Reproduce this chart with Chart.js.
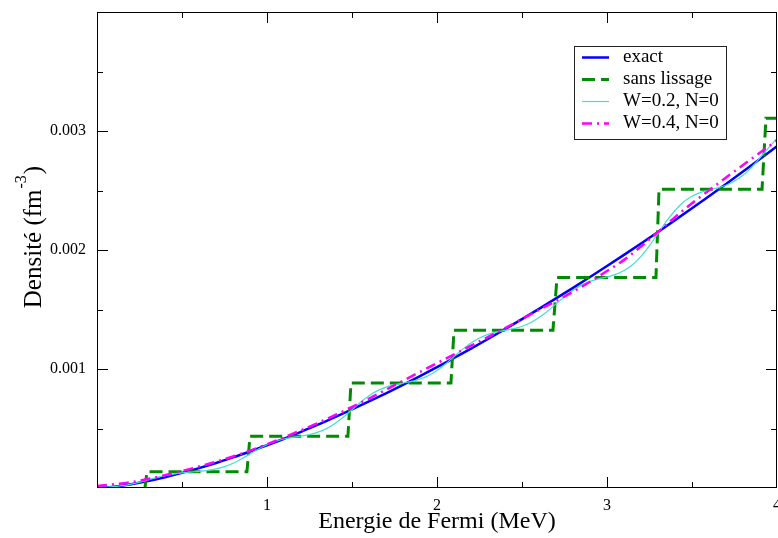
<!DOCTYPE html>
<html>
<head>
<meta charset="utf-8">
<script src="https://cdn.jsdelivr.net/npm/chart.js@4.4.0/dist/chart.umd.min.js"></script>
<style>
  html, body { margin: 0; padding: 0; background: #fff; }
  canvas { display: block; }
</style>
</head>
<body>
<canvas id="chart" width="778" height="538"></canvas>
<script>
// values
var exactX = [0, 0.1, 0.2, 0.3, 0.4, 0.5, 0.6, 0.7, 0.8, 0.9, 1.0, 1.1, 1.2, 1.3, 1.4, 1.5, 1.6, 1.7, 1.8, 1.9,
  2.0, 2.1, 2.2, 2.3, 2.4, 2.5, 2.6, 2.7, 2.8, 2.9, 3.0, 3.1, 3.2, 3.3, 3.4, 3.5, 3.6, 3.7, 3.8, 3.9, 4.0];
var exactY = [0, 0.0000114, 0.0000321, 0.000059, 0.0000908, 0.000127, 0.000167, 0.00021, 0.000257, 0.000307,
  0.000359, 0.000414, 0.000472, 0.000532, 0.000595, 0.00066, 0.000727, 0.000796, 0.000867, 0.00094,
  0.001015, 0.001093, 0.001171, 0.001252, 0.001335, 0.001419, 0.001505, 0.001593, 0.001682, 0.001773,
  0.001865, 0.001959, 0.002055, 0.002152, 0.002251, 0.002351, 0.002452, 0.002555, 0.002659, 0.002765, 0.002872];

var stepX = [0.282, 0.294, 0.882, 0.9, 1.476, 1.494, 2.082, 2.1, 2.682, 2.706, 3.288, 3.306, 3.912, 3.935, 4.0];
var stepY = [0, 0.000137, 0.000137, 0.000434, 0.000434, 0.000882, 0.000882, 0.001325, 0.001325, 0.001769,
  0.001769, 0.00251, 0.00251, 0.003107, 0.003107];

var w02X = [0, 0.05, 0.1, 0.15, 0.2, 0.25, 0.3, 0.35, 0.4, 0.45, 0.5, 0.55, 0.6, 0.65, 0.7, 0.75, 0.8, 0.85, 0.9, 0.95,
  1.0, 1.05, 1.1, 1.15, 1.2, 1.25, 1.3, 1.35, 1.4, 1.45, 1.5, 1.55, 1.6, 1.65, 1.7, 1.75, 1.8, 1.85, 1.9, 1.95,
  2.0, 2.05, 2.1, 2.15, 2.2, 2.25, 2.3, 2.35, 2.4, 2.45, 2.5, 2.55, 2.6, 2.65, 2.7, 2.75, 2.8, 2.85, 2.9, 2.95,
  3.0, 3.05, 3.1, 3.15, 3.2, 3.25, 3.3, 3.35, 3.4, 3.45, 3.5, 3.55, 3.6, 3.65, 3.7, 3.75, 3.8, 3.85, 3.9, 3.95, 4.0];
var w02Y = [0.000002, 0.0000053, 0.0000108, 0.0000197, 0.0000329, 0.0000496, 0.0000685, 0.0000874, 0.000104, 0.000117,
  0.000127, 0.000134, 0.00014, 0.000148, 0.00016, 0.00018, 0.000208, 0.000245, 0.000286, 0.000327,
  0.000363, 0.000391, 0.000412, 0.000425, 0.000437, 0.000449, 0.000469, 0.000499, 0.000542, 0.000596,
  0.000658, 0.00072, 0.000775, 0.000818, 0.000848, 0.000868, 0.000882, 0.000896, 0.000916, 0.000946,
  0.000988, 0.001042, 0.001104, 0.001165, 0.001219, 0.001261, 0.001291, 0.001311, 0.001325, 0.001339,
  0.001359, 0.001389, 0.001432, 0.001486, 0.001547, 0.001608, 0.001662, 0.001705, 0.001736, 0.001757,
  0.001774, 0.001795, 0.001827, 0.001876, 0.001947, 0.002037, 0.00214, 0.002242, 0.002332, 0.002403,
  0.002452, 0.002484, 0.002505, 0.002522, 0.002544, 0.002579, 0.002628, 0.002695, 0.002775, 0.002859, 0.002936];

var w04X = [0, 0.2, 0.4, 0.6, 0.8, 1.0, 1.2, 1.4, 1.6, 1.8, 2.0, 2.2, 2.4, 2.6, 2.8, 3.0, 3.1, 3.2, 3.3, 3.4, 3.5, 3.6, 3.8, 4.0];
var w04Y = [0.000017, 0.000049, 0.000108, 0.00018, 0.000265, 0.000367, 0.000485, 0.000612, 0.000752, 0.000901,
  0.001049, 0.001196, 0.001343, 0.001497, 0.001648, 0.001823, 0.001917, 0.00203, 0.002152, 0.002276,
  0.002393, 0.002502, 0.002714, 0.002922];

var xMajor = [1, 2, 3];
var xMinor = [0.5, 1.5, 2.5, 3.5];
var yMajor = [0.001, 0.002, 0.003];
var yMinor = [0.0005, 0.0015, 0.0025, 0.0035];

var SERIF = '"Liberation Serif", "Times New Roman", serif';

function pts(xs, ys) {
  return xs.map(function(x, i) { return { x: x, y: ys[i] }; });
}

// frame, inward ticks, legend box and the y title with its superscript
var decor = {
  id: 'decor',
  afterDatasetsDraw: function(chart) {
    var ctx = chart.ctx, a = chart.chartArea;
    var xs = chart.scales.x, ys = chart.scales.y;
    ctx.save();
    ctx.strokeStyle = '#000';
    ctx.lineWidth = 1;
    ctx.strokeRect(a.left + 0.5, a.top + 0.5, a.right - a.left - 1, a.bottom - a.top - 1);

    function xt(v, len) {
      var p = Math.round(xs.getPixelForValue(v)) + 0.5;
      ctx.beginPath();
      ctx.moveTo(p, a.bottom); ctx.lineTo(p, a.bottom - len);
      ctx.moveTo(p, a.top); ctx.lineTo(p, a.top + len);
      ctx.stroke();
    }
    function yt(v, len) {
      var p = Math.round(ys.getPixelForValue(v)) + 0.5;
      ctx.beginPath();
      ctx.moveTo(a.left, p); ctx.lineTo(a.left + len, p);
      ctx.moveTo(a.right, p); ctx.lineTo(a.right - len, p);
      ctx.stroke();
    }
    xMajor.forEach(function(v) { xt(v, 11); });
    xMinor.forEach(function(v) { xt(v, 6); });
    yMajor.forEach(function(v) { yt(v, 11); });
    yMinor.forEach(function(v) { yt(v, 6); });

    // legend
    ctx.fillStyle = '#fff';
    ctx.fillRect(574, 46, 152, 94);
    ctx.strokeStyle = '#222';
    ctx.strokeRect(574.5, 46.5, 152, 93);
    var rows = [57, 79, 101, 123];
    chart.data.datasets.forEach(function(ds, i) {
      ctx.save();
      ctx.strokeStyle = ds.borderColor;
      ctx.lineWidth = ds.borderWidth;
      ctx.setLineDash(ds.borderDash || []);
      ctx.beginPath();
      ctx.moveTo(582, rows[i] + 0.5);
      ctx.lineTo(609, rows[i] + 0.5);
      ctx.stroke();
      ctx.restore();
      ctx.fillStyle = '#000';
      ctx.font = '19px ' + SERIF;
      ctx.textBaseline = 'middle';
      ctx.textAlign = 'left';
      ctx.fillText(ds.label, 623, rows[i]);
    });

    // y axis title
    ctx.save();
    ctx.translate(34, 237);
    ctx.rotate(-Math.PI / 2);
    ctx.fillStyle = '#000';
    ctx.textBaseline = 'middle';
    ctx.textAlign = 'left';
    var big = '25px ' + SERIF, small = '16px ' + SERIF;
    var t1 = 'Densité (fm', t2 = '-3', t3 = ')';
    ctx.font = big;
    var w1 = ctx.measureText(t1).width, w3 = ctx.measureText(t3).width;
    ctx.font = small;
    var w2 = ctx.measureText(t2).width + 2;
    var x0 = -(w1 + w2 + w3) / 2;
    ctx.font = big;
    ctx.fillText(t1, x0, 0);
    ctx.font = small;
    ctx.fillText(t2, x0 + w1 + 1, -12);
    ctx.font = big;
    ctx.fillText(t3, x0 + w1 + w2, 0);
    ctx.restore();

    ctx.restore();
  }
};

var chart = new Chart('chart', {
  type: 'line',
  data: {
    datasets: [
      {
        label: 'exact',
        data: pts(exactX, exactY),
        borderColor: '#0000ff',
        borderWidth: 2.5,
        pointRadius: 0,
        fill: false,
        cubicInterpolationMode: 'monotone',
        order: 4
      },
      {
        label: 'sans lissage',
        data: pts(stepX, stepY),
        borderColor: '#008b00',
        borderWidth: 3,
        borderDash: [13, 6],
        pointRadius: 0,
        fill: false,
        tension: 0,
        order: 3
      },
      {
        label: 'W=0.2, N=0',
        data: pts(w02X, w02Y),
        borderColor: '#40e0d0',
        borderWidth: 1.2,
        pointRadius: 0,
        fill: false,
        cubicInterpolationMode: 'monotone',
        order: 2
      },
      {
        label: 'W=0.4, N=0',
        data: pts(w04X, w04Y),
        borderColor: '#ff00ff',
        borderWidth: 2.5,
        borderDash: [10, 5, 2, 5],
        pointRadius: 0,
        fill: false,
        cubicInterpolationMode: 'monotone',
        order: 1
      }
    ]
  },
  options: {
    responsive: false,
    animation: false,
    devicePixelRatio: 1,
    layout: { padding: { top: 12, right: 1, left: 0, bottom: 0 } },
    plugins: { legend: { display: false }, tooltip: { enabled: false } },
    scales: {
      x: {
        type: 'linear',
        min: 0,
        max: 4,
        border: { display: false },
        grid: { display: false, drawTicks: false },
        ticks: {
          stepSize: 1,
          padding: 8,
          color: '#000',
          maxRotation: 0,
          autoSkip: false,
          font: { family: SERIF, size: 16 },
          callback: function(v) { return v === 0 ? '' : String(v); }
        },
        title: {
          display: true,
          text: 'Energie de Fermi (MeV)',
          color: '#000',
          font: { family: SERIF, size: 24 },
          padding: { top: 0, bottom: 2 }
        },
        afterFit: function(s) { s.height = 50; s.paddingLeft = 0; s.paddingRight = 0; }
      },
      y: {
        type: 'linear',
        min: 0,
        max: 0.004,
        border: { display: false },
        grid: { display: false, drawTicks: false },
        ticks: {
          stepSize: 0.001,
          padding: 11,
          color: '#000',
          font: { family: SERIF, size: 16 },
          callback: function(v) { return (v < 0.0005 || v > 0.0035) ? '' : v.toFixed(3); }
        },
        afterFit: function(s) { s.width = 97; s.paddingTop = 0; s.paddingBottom = 0; }
      }
    }
  },
  plugins: [decor]
});
</script>
</body>
</html>
